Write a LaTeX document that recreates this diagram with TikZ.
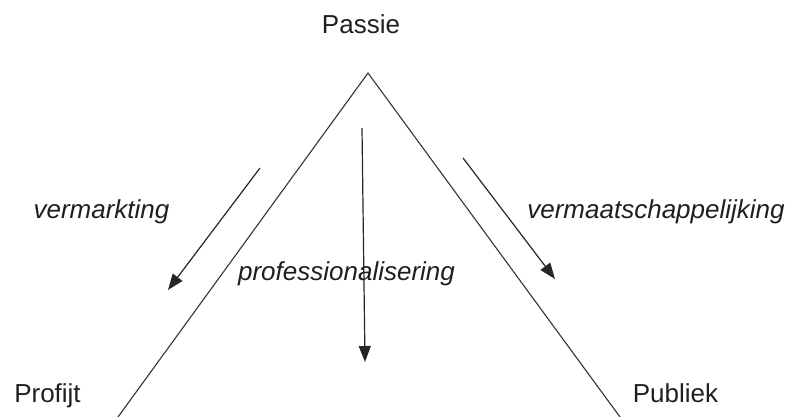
\documentclass[tikz,border=0pt]{standalone}
\usepackage{fontspec}
\setmainfont{Liberation Sans}
\usetikzlibrary{arrows.meta}
\begin{document}
\begin{tikzpicture}[x=1pt,y=-1pt,
  lbl/.style={anchor=base,inner sep=0pt,text=black!88,font=\fontsize{26}{30}\selectfont},
  ilbl/.style={lbl,font=\fontsize{26}{30}\selectfont\itshape},
  side/.style={draw=black!80,line width=1.1pt},
  flow/.style={draw=black!85,line width=1.2pt,-{Triangle[length=16pt,width=12pt]}}]
\useasboundingbox (0,0) rectangle (787,416);
% labels
\node[lbl] (passie) at (361,33) {Passie};
\node[lbl] (profijt) at (47.5,402) {Profijt};
\node[lbl] (publiek) at (675.5,402) {Publiek};
\node[ilbl] (verm) at (101.5,218) {vermarkting};
\node[ilbl] (prof) at (346.5,280) {professionalisering};
\node[ilbl] (vermaat) at (656,218) {vermaatschappelijking};
% triangle
\coordinate (apex) at (368,73);
\coordinate (bl) at (118,417);
\coordinate (br) at (620,417);
\draw[side] (bl) -- (apex) -- (br);
% arrows
\coordinate (la) at (260,168);
\coordinate (lb) at (168,290);
\coordinate (ma) at (362,128);
\coordinate (mb) at (365,362);
\coordinate (ra) at (463,158);
\coordinate (rb) at (555,279);
\draw[flow] (la) -- (lb);
\draw[flow] (ma) -- (mb);
\draw[flow] (ra) -- (rb);
\end{tikzpicture}
\end{document}
